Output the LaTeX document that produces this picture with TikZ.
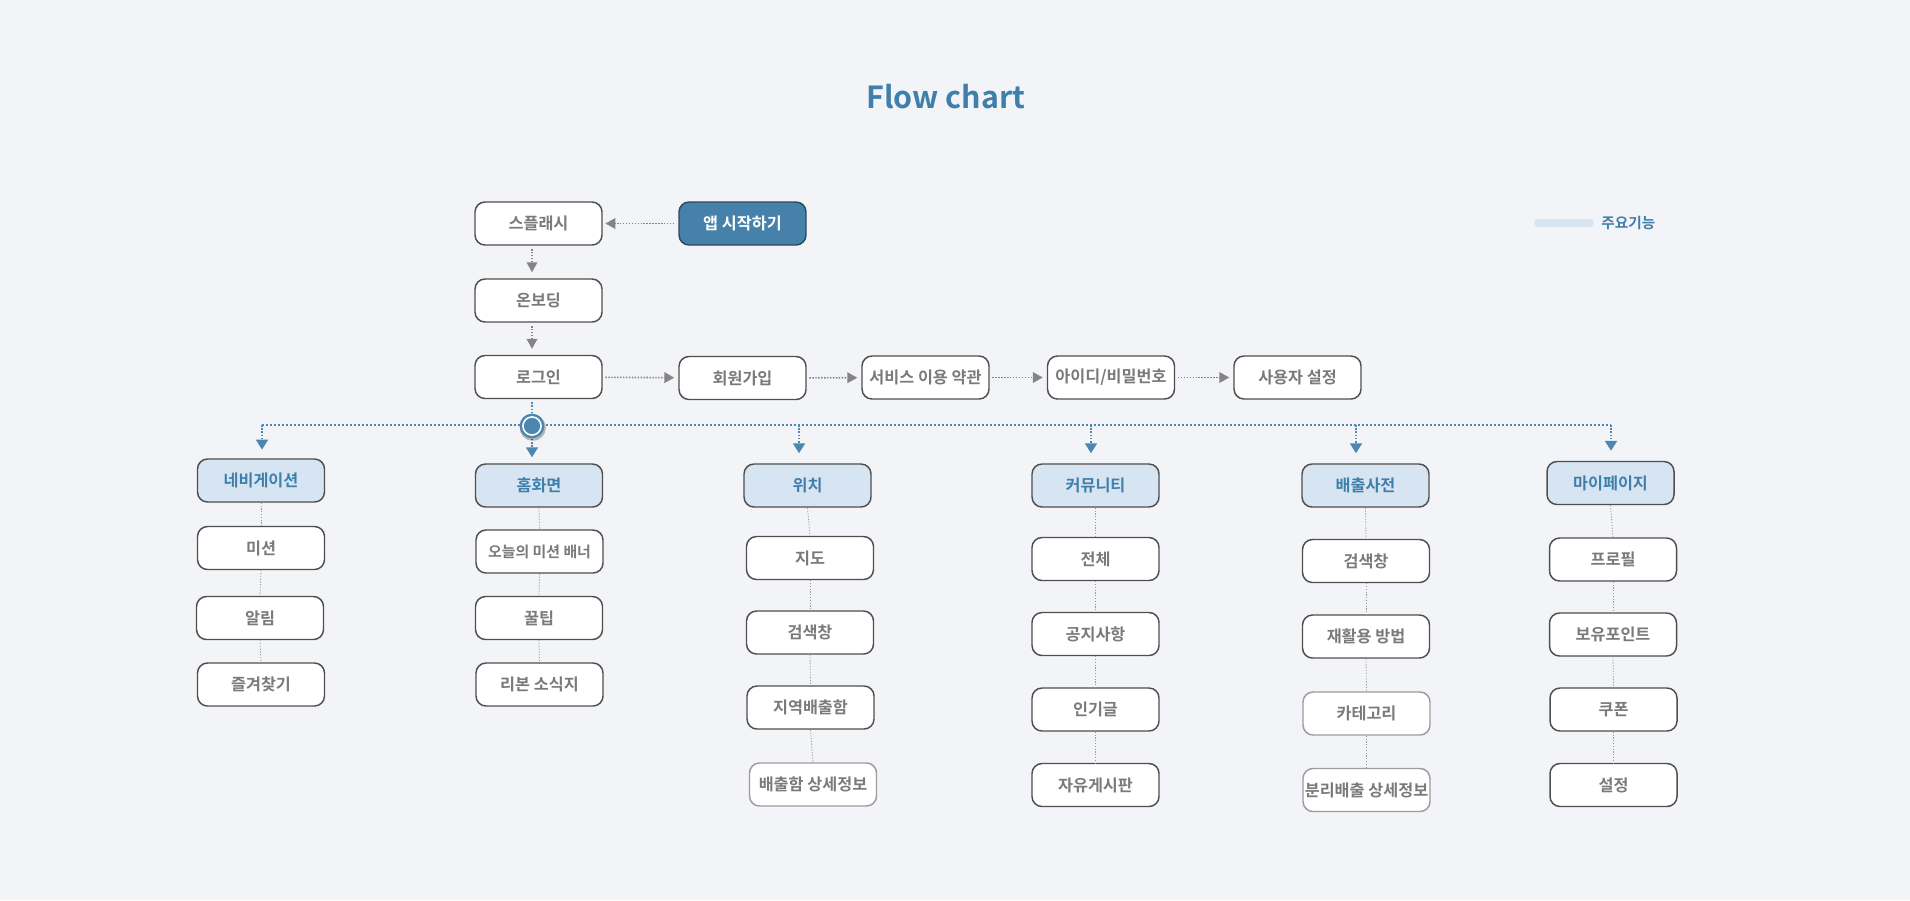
\documentclass[tikz,border=0pt]{standalone}
\usepackage{fontspec}
\setmainfont{Noto Sans CJK KR}[BoldFont={Noto Sans CJK KR Bold}]
\usetikzlibrary{arrows.meta,calc}
\definecolor{bg}{HTML}{F3F4F8}
\definecolor{boxborder}{HTML}{4F4F4F}
\definecolor{lightborder}{HTML}{9C9C9C}
\definecolor{textgray}{HTML}{7A7A7A}
\definecolor{hfill}{HTML}{D7E5F2}
\definecolor{hblue}{HTML}{3F7FAB}
\definecolor{startfill}{HTML}{4581AB}
\definecolor{startborder}{HTML}{2F4A5E}
\definecolor{arrowgray}{HTML}{858585}
\definecolor{lineblue}{HTML}{4D86AF}
\definecolor{thingray}{HTML}{999999}
\tikzset{
  box/.style={rectangle, rounded corners=7.5pt, draw=boxborder, line width=1.1pt, fill=white,
    minimum width=95.25pt, minimum height=32.25pt, inner sep=0pt, text=textgray,
    font=\bfseries\fontsize{12.2}{14}\selectfont},
  lbox/.style={box, draw=lightborder},
  hbox/.style={box, fill=hfill, text=hblue},
  startbox/.style={box, fill=startfill, draw=startborder, text=white},
  garrow/.style={draw=arrowgray, line width=1.2pt, dash pattern=on 1.1pt off 1.1pt,
    -{Triangle[length=7.5pt,width=8pt]}, arrowgray},
  barrow/.style={draw=lineblue, line width=1.4pt, dash pattern=on 1.2pt off 1.2pt,
    -{Triangle[length=7.5pt,width=9pt]}, lineblue},
  bline/.style={draw=lineblue, line width=0.8pt, dash pattern=on 1.5pt off 1.5pt},
  thin/.style={draw=thingray, line width=0.6pt, dash pattern=on 0.9pt off 1.2pt},
}
\begin{document}
\begin{tikzpicture}[x=0.75pt,y=-0.75pt]
\fill[bg] (0,0) rectangle (1910,900);
\useasboundingbox (0,0) rectangle (1910,900);

% title
\node[font=\bfseries\fontsize{22.8}{26}\selectfont, text=hblue] (title) at (946,97) {Flow chart};

% legend
\coordinate (lg1) at (1538,223);
\coordinate (lg2) at (1590,223);
\draw[hfill, line width=5.5pt, line cap=round] (lg1) -- (lg2);
\node[anchor=west, inner sep=0pt, text=hblue, font=\bfseries\fontsize{11}{13}\selectfont] (legend) at (1601,223) {주요기능};

% top flow
\node[box] (splash) at (538.5,223.5) {스플래시};
\node[startbox] (start) at (742.5,223.5) {앱 시작하기};
\node[box] (onboard) at (538.5,300.5) {온보딩};
\node[box] (login) at (538.5,377) {로그인};
\node[box] (signup) at (742.5,378) {회원가입};
\node[box] (terms) at (925.5,377.5) {서비스 이용 약관};
\node[box] (idpw) at (1111,377.5) {아이디/비밀번호};
\node[box] (userset) at (1297.5,377.5) {사용자 설정};

\draw[garrow, shorten <=3pt, shorten >=2pt] (start) -- (splash);
\coordinate (s1) at ($(splash.south)+(-6.5,0)$);
\coordinate (s2) at ($(onboard.south)+(-6.5,0)$);
\draw[garrow, shorten <=2.5pt, shorten >=4.5pt] (s1) -- (s1 |- onboard.north);
\draw[garrow, shorten <=2.5pt, shorten >=4.5pt] (s2) -- (s2 |- login.north);
\draw[garrow, shorten <=2pt, shorten >=3pt] (login) -- (signup);
\draw[garrow, shorten <=2pt, shorten >=3pt] (signup) -- (terms);
\draw[garrow, shorten <=2pt, shorten >=3pt] (terms) -- (idpw);
\draw[garrow, shorten <=2pt, shorten >=3pt] (idpw) -- (userset);

% column 1
\node[hbox] (nav) at (261,480.5) {네비게이션};
\node[box] (mission) at (261,548) {미션};
\node[box] (alarm) at (260,618) {알림};
\node[box] (fav) at (261,684.5) {즐겨찾기};
% column 2
\node[hbox] (home) at (539,485.5) {홈화면};
\node[box, font=\bfseries\fontsize{11.2}{13}\selectfont] (banner) at (539.5,551.5) {오늘의 미션 배너};
\node[box] (tip) at (539,618) {꿀팁};
\node[box] (news) at (539.5,684.5) {리본 소식지};
% column 3
\node[hbox] (loc) at (807.5,485.5) {위치};
\node[box] (map) at (810,558) {지도};
\node[box] (search1) at (810,632.5) {검색창};
\node[box] (bin) at (810.5,707.5) {지역배출함};
\node[lbox] (bindet) at (813,784.5) {배출함 상세정보};
% column 4
\node[hbox] (comm) at (1095.5,485.5) {커뮤니티};
\node[box] (all) at (1095.5,559) {전체};
\node[box] (notice) at (1095.5,634) {공지사항};
\node[box] (pop) at (1095.5,709.5) {인기글};
\node[box] (free) at (1095.5,785) {자유게시판};
% column 5
\node[hbox] (dict) at (1365.5,485.5) {배출사전};
\node[box] (search2) at (1366,561) {검색창};
\node[box] (recycle) at (1366,636.5) {재활용 방법};
\node[lbox] (cat) at (1366.5,713.5) {카테고리};
\node[lbox] (sepdet) at (1366.5,790) {분리배출 상세정보};
% column 6
\node[hbox] (my) at (1610.5,483) {마이페이지};
\node[box] (prof) at (1613,559.5) {프로필};
\node[box] (point) at (1613,634.5) {보유포인트};
\node[box] (coupon) at (1613.5,709.5) {쿠폰};
\node[box] (setting) at (1613.5,785) {설정};

% child connectors
\foreach \a/\b in {nav/mission, mission/alarm, alarm/fav,
  home/banner, banner/tip, tip/news,
  loc/map, map/search1, search1/bin, bin/bindet,
  comm/all, all/notice, notice/pop, pop/free,
  dict/search2, search2/recycle, recycle/cat, cat/sepdet,
  my/prof, prof/point, point/coupon, coupon/setting}
  \draw[thin] (\a.south) -- (\b.north);

% blue distribution line
\coordinate (c1) at (262,425);
\coordinate (c3) at (799,425);
\coordinate (c4) at (1091,425);
\coordinate (c5) at (1356,425);
\coordinate (c6) at (1611,425);
\coordinate (hub) at (532,426);
\draw[bline] (c1) -- (c6);
\coordinate (lgs) at ($(login.south)+(-6.5,3)$);
\draw[barrow, -] (lgs) -- (lgs |- hub);
\draw[barrow, shorten >=6.5pt] (c1) -- (c1 |- nav.north);
\draw[barrow, shorten >=4.5pt] (hub) -- (hub |- home.north);
\draw[barrow, shorten >=7.5pt] (c3) -- (c3 |- loc.north);
\draw[barrow, shorten >=7.5pt] (c4) -- (c4 |- comm.north);
\draw[barrow, shorten >=7.5pt] (c5) -- (c5 |- dict.north);
\draw[barrow, shorten >=7.5pt] (c6) -- (c6 |- my.north);

% hub circle
\fill[black, opacity=0.25] ($(hub)+(0.8,1.8)$) circle[radius=9.8pt];
\fill[lineblue] (hub) circle[radius=9.3pt];
\fill[white] (hub) circle[radius=7.4pt];
\fill[lineblue] (hub) circle[radius=6.1pt];
\end{tikzpicture}
\end{document}
